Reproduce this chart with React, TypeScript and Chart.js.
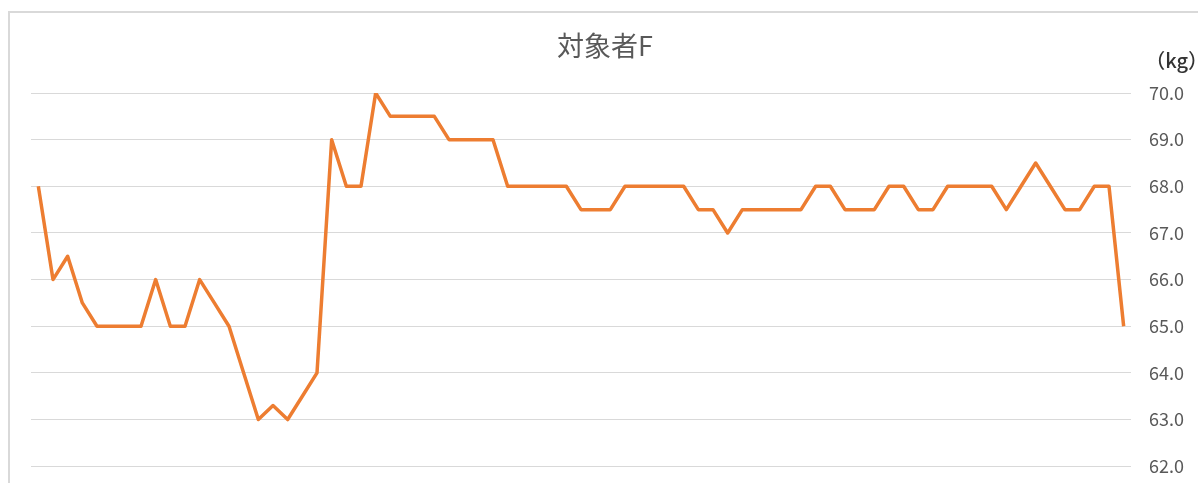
import React, { useEffect, useRef } from "react";
import { Chart, registerables } from "chart.js";

Chart.register(...registerables);

const TITLE = "対象者F";
const UNIT = "（kg）";
const Y_MIN = 62;
const Y_MAX = 70;

const weights: number[] = [
  68, 66, 66.5, 65.5, 65, 65, 65, 65, 66, 65,
  65, 66, 65.5, 65, 64, 63, 63.3, 63, 63.5, 64,
  69, 68, 68, 70, 69.5, 69.5, 69.5, 69.5, 69, 69,
  69, 69, 68, 68, 68, 68, 68, 67.5, 67.5, 67.5,
  68, 68, 68, 68, 68, 67.5, 67.5, 67, 67.5, 67.5,
  67.5, 67.5, 67.5, 68, 68, 67.5, 67.5, 67.5, 68, 68,
  67.5, 67.5, 68, 68, 68, 68, 67.5, 68, 68.5, 68,
  67.5, 67.5, 68, 68, 65,
];

const labels: string[] = weights.map((_, i) => String(i + 1));

const FONT = "'Noto Sans CJK JP', 'Noto Sans', sans-serif";
const W = 1198;
const H = 495;

const decorPlugin = {
  id: "decor",
  beforeDraw(chart: any) {
    const ctx = chart.ctx;
    ctx.save();
    ctx.fillStyle = "#ffffff";
    ctx.fillRect(0, 0, chart.width, chart.height);
    ctx.strokeStyle = "#d9d9d9";
    ctx.lineWidth = 2;
    ctx.beginPath();
    ctx.moveTo(9, chart.height + 5);
    ctx.lineTo(9, 12);
    ctx.lineTo(chart.width + 5, 12);
    ctx.stroke();
    ctx.restore();
  },
  afterDraw(chart: any) {
    const ctx = chart.ctx;
    ctx.save();
    ctx.fillStyle = "#595959";
    ctx.font = `27px ${FONT}`;
    ctx.textAlign = "center";
    ctx.textBaseline = "middle";
    ctx.fillText(TITLE, 605, 46);
    ctx.fillStyle = "#333333";
    ctx.font = `500 20px ${FONT}`;
    ctx.textAlign = "right";
    ctx.fillText(UNIT, 1208, 60);
    ctx.restore();
  },
};

export default function App() {
  const ref = useRef<HTMLCanvasElement | null>(null);
  useEffect(() => {
    if (!ref.current) return;
    const chart = new Chart(ref.current, {
      type: "line",
      data: {
        labels,
        datasets: [
          {
            data: weights,
            borderColor: "#ED7D31",
            backgroundColor: "#ED7D31",
            borderWidth: 3.5,
            pointRadius: 0,
            tension: 0,
            borderJoinStyle: "round",
          },
        ],
      },
      options: {
        responsive: false,
        animation: false,
        layout: { padding: { left: 31, top: 93, bottom: 6, right: 0 } },
        plugins: {
          legend: { display: false },
          title: { display: false },
          tooltip: { enabled: false },
        },
        scales: {
          x: {
            type: "category",
            display: false,
            offset: true,
            grid: { display: false },
          },
          y: {
            position: "right",
            min: Y_MIN,
            max: Y_MAX,
            afterFit: (scale: any) => {
              scale.width = 67;
            },
            grid: { color: "#d9d9d9", lineWidth: 1, drawTicks: false },
            border: { display: false },
            ticks: {
              stepSize: 1,
              padding: 18,
              color: "#595959",
              font: { family: FONT, size: 18 },
              callback: (v: any) => Number(v).toFixed(1),
            },
          },
        },
      },
      plugins: [decorPlugin],
    });
    return () => chart.destroy();
  }, []);
  return (
    <div style={{ position: "fixed", left: 0, top: 0, width: W, height: H }}>
      <canvas ref={ref} width={W} height={H} style={{ display: "block" }} />
    </div>
  );
}
